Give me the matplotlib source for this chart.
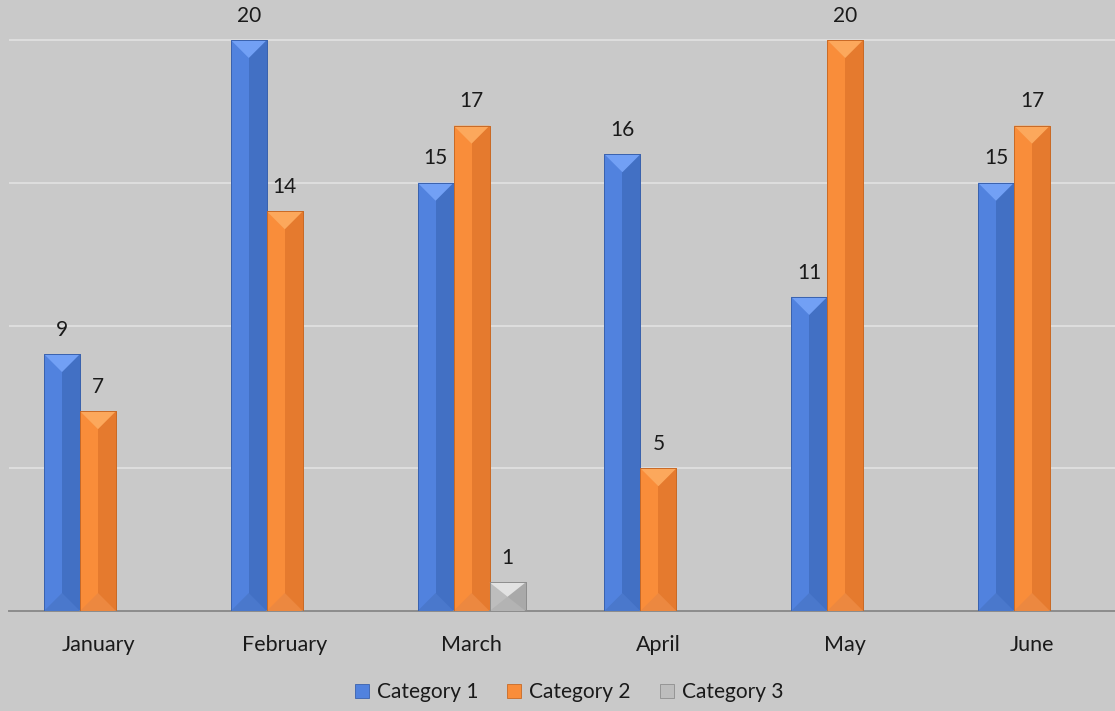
import matplotlib
matplotlib.use("Agg")
import matplotlib.pyplot as plt
from matplotlib.patches import Polygon, Patch
import numpy as np

months = ["January", "February", "March", "April", "May", "June"]
series_names = ["Category 1", "Category 2", "Category 3"]
cat1 = [9, 20, 15, 16, 11, 15]
cat2 = [7, 14, 17, 5, 20, 17]
cat3 = [np.nan, np.nan, 1, np.nan, np.nan, np.nan]

plt.rcParams['font.family'] = ['Lato', 'DejaVu Sans']

BG = "#c9c9c9"
# (body-right, body-left, top triangle, bottom triangle, edge)
palettes = [
    ("#4270c4", "#5182de", "#72a0f5", "#4a78cc", "#3a62ad"),
    ("#e57a2e", "#f98d3a", "#fca85c", "#ec8840", "#c96a26"),
    ("#a9a9a9", "#bdbdbd", "#e2e2e2", "#b3b3b3", "#8e8e8e"),
]

W, H, DPI = 1115, 711, 100
fig = plt.figure(figsize=(W / DPI, H / DPI), dpi=DPI, facecolor=BG)

ymax = 20.5
px_per_unit_y = (611 - 40) / 20.0
ax_top_px = 611 - ymax * px_per_unit_y
ax = fig.add_axes([9 / W, (H - 611) / H, (W - 9) / W, (611 - ax_top_px) / H])
ax.set_facecolor(BG)

x = np.arange(len(months))
px_per_unit_x = (1032 - 98) / 5.0
ax.set_xlim((9 - 98) / px_per_unit_x, (W - 98) / px_per_unit_x)
ax.set_ylim(0, ymax)

bw = 36 / px_per_unit_x
offsets = [-bw, 0, bw]

for spine in ["top", "left", "right"]:
    ax.spines[spine].set_visible(False)
ax.spines["bottom"].set_color("#8c8c8c")
ax.spines["bottom"].set_linewidth(1.4)
ax.set_yticks([5, 10, 15, 20])
ax.set_yticklabels([])
ax.tick_params(axis="y", length=0)
ax.yaxis.grid(True, color="#e2e2e2", linewidth=1.2)
ax.set_axisbelow(True)
ax.set_xticks(x)
ax.set_xticklabels(months, fontsize=15.5, color="#1a1a1a")
ax.tick_params(axis="x", length=0, pad=17.5)

all_series = [cat1, cat2, cat3]
for si, vals in enumerate(all_series):
    right_c, left_c, top_c, bot_c, edge_c = palettes[si]
    bars = ax.bar(x + offsets[si], vals, width=bw, color=right_c,
                  edgecolor=edge_c, linewidth=0.6, zorder=2)
    for rect, v in zip(bars, vals):
        if v is None or np.isnan(v):
            continue
        bx, bwid, bh = rect.get_x(), rect.get_width(), rect.get_height()
        d = (bwid * px_per_unit_x / 2.0) / px_per_unit_y
        d = min(d, bh / 2.0)
        ax.add_patch(Polygon([(bx, 0), (bx + bwid / 2, 0), (bx + bwid / 2, bh), (bx, bh)],
                             closed=True, facecolor=left_c, edgecolor="none", zorder=3))
        ax.add_patch(Polygon([(bx, bh), (bx + bwid, bh), (bx + bwid / 2, bh - d)],
                             closed=True, facecolor=top_c, edgecolor="none", zorder=4))
        ax.add_patch(Polygon([(bx, 0), (bx + bwid, 0), (bx + bwid / 2, d)],
                             closed=True, facecolor=bot_c, edgecolor="none", zorder=4))
        ax.add_patch(Polygon([(bx, 0), (bx + bwid, 0), (bx + bwid, bh), (bx, bh)],
                             closed=True, facecolor="none", edgecolor=edge_c,
                             linewidth=0.7, zorder=5))
        ax.annotate(f"{int(v)}", xy=(bx + bwid / 2, bh), xytext=(0, 17.5),
                    textcoords="offset points", ha="center", va="center",
                    fontsize=15, color="#1a1a1a", annotation_clip=False)

handles = [Patch(facecolor=p[1], edgecolor=p[4], linewidth=0.6) for p in palettes]
fig.legend(handles, series_names, loc="center", bbox_to_anchor=(569 / W, 1 - 692 / H),
           ncol=3, frameon=False, fontsize=15, handlelength=0.67, handleheight=0.67,
           handletextpad=0.38, columnspacing=1.4, labelcolor="#1a1a1a",
           borderpad=0.2)

fig.savefig("out.png", dpi=DPI, facecolor=BG)
